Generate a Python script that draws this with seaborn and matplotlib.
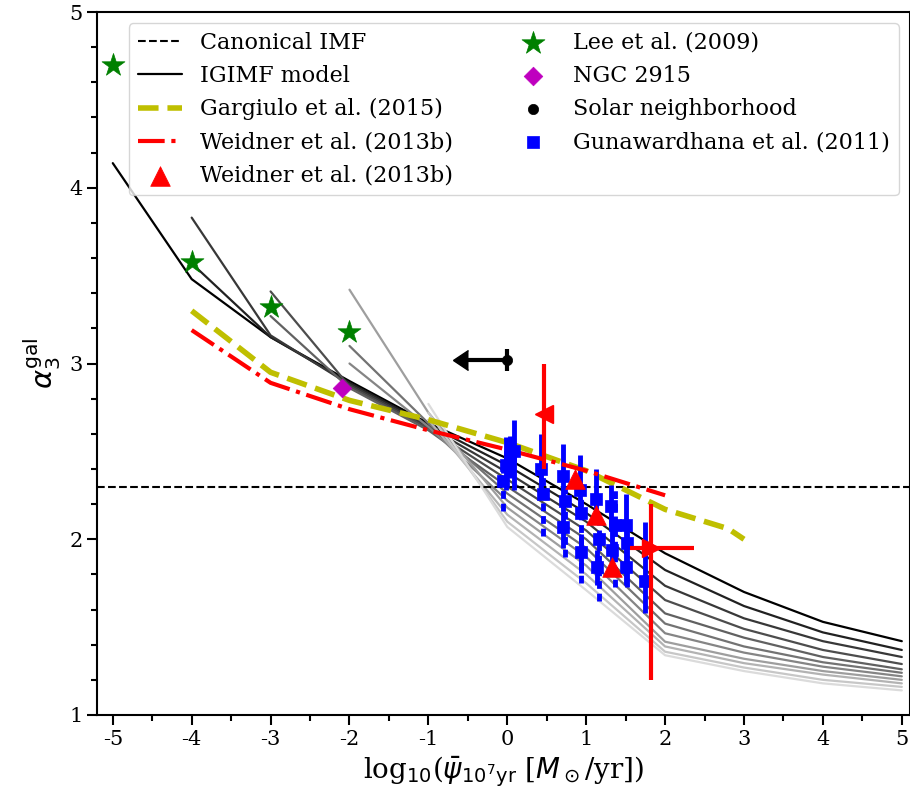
import numpy as np
import pandas as pd
import matplotlib
matplotlib.use("Agg")
import matplotlib.pyplot as plt
from matplotlib.ticker import MultipleLocator
import seaborn as sns

# ---------------- data ----------------
nan = np.nan
log_sfr = [-5, -4, -3, -2, -1, 0, 1, 2, 3, 4, 5]

# IGIMF model curves (alpha_3 of the galaxy-wide IMF), darkest first
igimf_curves = [
    [4.14, 3.48, 3.15, 2.90, 2.66, 2.46, 2.20, 1.92, 1.70, 1.53, 1.42],
    [nan, 3.57, 3.15, 2.89, 2.65, 2.42, 2.15, 1.825, 1.62, 1.47, 1.37],
    [nan, 3.83, 3.16, 2.88, 2.64, 2.38, 2.10, 1.735, 1.55, 1.42, 1.33],
    [nan, nan, 3.41, 2.87, 2.63, 2.34, 2.05, 1.654, 1.49, 1.37, 1.29],
    [nan, nan, 3.27, 2.86, 2.62, 2.30, 2.00, 1.578, 1.44, 1.33, 1.26],
    [nan, nan, nan, 3.10, 2.66, 2.26, 1.95, 1.52, 1.39, 1.30, 1.24],
    [nan, nan, nan, 3.00, 2.64, 2.22, 1.90, 1.465, 1.355, 1.275, 1.22],
    [nan, nan, nan, 3.42, 2.72, 2.18, 1.85, 1.417, 1.32, 1.25, 1.20],
    [nan, nan, nan, nan, 2.68, 2.14, 1.80, 1.39, 1.295, 1.23, 1.18],
    [nan, nan, nan, nan, 2.72, 2.10, 1.75, 1.36, 1.27, 1.20, 1.16],
    [nan, nan, nan, nan, 2.77, 2.07, 1.71, 1.34, 1.25, 1.18, 1.14],
]
igimf_gray = [0.0, 0.13, 0.22, 0.30, 0.38, 0.45, 0.52, 0.62, 0.70, 0.78, 0.86]

canonical_alpha3 = 2.3

gargiulo_x = [-4, -3, -2, -1, 0, 1, 2, 2.8, 3]
gargiulo_y = [3.30, 2.95, 2.79, 2.68, 2.55, 2.39, 2.17, 2.06, 2.00]

weidner_x = [-4, -3, -2, -1, 0, 1, 2]
weidner_y = [3.19, 2.89, 2.74, 2.62, 2.51, 2.39, 2.25]

weidner_pts_x = [0.855, 1.13, 1.33]
weidner_pts_y = [2.34, 2.14, 1.84]

# two further red points with asymmetric error bars
red_left_x, red_left_y = [0.47], [2.71]
red_left_yerr = [[0.31], [0.29]]
red_right_x, red_right_y = [1.82], [1.95]
red_right_xerr = [[0.27], [0.54]]
red_right_yerr = [[0.75], [0.25]]

lee_x = [-5, -4, -3, -2]
lee_y = [4.70, 3.58, 3.32, 3.18]

ngc_x = [-2.1]
ngc_y = [2.86]

solar_x = [0.0]
solar_y = [3.02]
solar_xerr = [0.50]
solar_yerr = [0.06]

gama_x = [-0.06, -0.02, 0.04, 0.08, 0.43, 0.45, 0.71, 0.73, 0.71,
          0.92, 0.94, 0.93, 1.13, 1.16, 1.14, 1.31, 1.36, 1.33,
          1.50, 1.52, 1.50, 1.75]
gama_y = [2.33, 2.42, 2.47, 2.50, 2.40, 2.26, 2.36, 2.22, 2.07,
          2.28, 2.15, 1.93, 2.23, 2.00, 1.84, 2.19, 2.08, 1.94,
          2.08, 1.98, 1.84, 1.76]
gama_err_lo = [0.17, 0.14, 0.12, 0.22, 0.15, 0.24, 0.18, 0.32, 0.12,
               0.15, 0.40, 0.12, 0.12, 0.35, 0.10, 0.12, 0.35, 0.10,
               0.15, 0.25, 0.10, 0.18]
gama_err_hi = [0.12, 0.16, 0.12, 0.18, 0.20, 0.12, 0.18, 0.15, 0.12,
               0.20, 0.12, 0.10, 0.17, 0.15, 0.10, 0.12, 0.22, 0.12,
               0.18, 0.12, 0.10, 0.34]
gama_dashed = [True, False, False, False, False, True, False, True, False,
               False, True, False, False, True, False, False, True, False,
               False, False, False, False]

x_ticks = [-5, -4, -3, -2, -1, 0, 1, 2, 3, 4, 5]
y_ticks = [1, 2, 3, 4, 5]

RED, GREEN, BLUE, YELLOW, MAGENTA = "#ff0000", "#008000", "#0000ff", "#bfbf00", "#bf00bf"

# ---------------- style ----------------
sns.set_theme(style="ticks", color_codes=False)
plt.rcParams["font.family"] = ["DejaVu Serif"]
plt.rcParams["mathtext.fontset"] = "dejavusans"
plt.rcParams["axes.unicode_minus"] = False
for key in ("text.color", "axes.labelcolor", "xtick.color", "ytick.color",
            "xtick.labelcolor", "ytick.labelcolor"):
    plt.rcParams[key] = "black"

fig = plt.figure(figsize=(9.10, 8.02), dpi=100)
ax = fig.add_axes([97 / 910, 1 - 715 / 802, (909.7 - 97) / 910, (715 - 12) / 802])

# IGIMF model family
for i, (curve, g) in enumerate(zip(igimf_curves, igimf_gray)):
    df = pd.DataFrame({"x": log_sfr, "y": curve}).dropna()
    sns.lineplot(data=df, x="x", y="y", ax=ax, color=str(g), lw=1.6,
                 estimator=None, sort=False,
                 label="IGIMF model" if i == 0 else None, legend=False)

ax.axhline(canonical_alpha3, color="k", ls="--", lw=1.5, label="Canonical IMF")

sns.lineplot(x=gargiulo_x, y=gargiulo_y, ax=ax, color=YELLOW, lw=4, ls="--",
             estimator=None, sort=False, label="Gargiulo et al. (2015)",
             legend=False)

# Gunawardhana et al. (2011) measurements
gx = np.array(gama_x)
gy = np.array(gama_y)
glo = np.array(gama_err_lo)
ghi = np.array(gama_err_hi)
gd = np.array(gama_dashed)
ax.errorbar(gx[~gd], gy[~gd], yerr=[glo[~gd], ghi[~gd]], fmt="none",
            ecolor=BLUE, elinewidth=3.5, capsize=0)
eb = ax.errorbar(gx[gd], gy[gd], yerr=[glo[gd], ghi[gd]], fmt="none",
                 ecolor=BLUE, elinewidth=3.5, capsize=0)
eb[2][0].set_linestyle((0, (1.6, 1.0)))
sns.scatterplot(x=gama_x, y=gama_y, ax=ax, marker="s", s=85, color=BLUE,
                edgecolor=BLUE, linewidth=0.5, zorder=3,
                label="Gunawardhana et al. (2011)", legend=False)

sns.lineplot(x=weidner_x, y=weidner_y, ax=ax, color=RED, lw=3, ls="-.",
             estimator=None, sort=False, label="Weidner et al. (2013b)",
             legend=False)

sns.scatterplot(x=weidner_pts_x, y=weidner_pts_y, ax=ax, marker="^", s=200,
                color=RED, edgecolor=RED, linewidth=0.5, zorder=4,
                label="Weidner et al. (2013b) ", legend=False)

ax.errorbar(red_left_x, red_left_y, yerr=red_left_yerr, fmt="<", color=RED,
            ms=13, elinewidth=3, capsize=0, zorder=4)
ax.errorbar(red_right_x, red_right_y, xerr=red_right_xerr, yerr=red_right_yerr,
            fmt=">", color=RED, ms=13, elinewidth=3, capsize=0, zorder=4)

sns.scatterplot(x=lee_x, y=lee_y, ax=ax, marker="*", s=300, color=GREEN,
                edgecolor=GREEN, linewidth=0.5, zorder=4,
                label="Lee et al. (2009)", legend=False)
sns.scatterplot(x=ngc_x, y=ngc_y, ax=ax, marker="D", s=90, color=MAGENTA,
                edgecolor=MAGENTA, linewidth=0.5, zorder=4,
                label="NGC 2915", legend=False)

sol = ax.errorbar(solar_x, solar_y, xerr=solar_xerr, yerr=solar_yerr,
                  xuplims=True, fmt="none", ecolor="k", elinewidth=3,
                  capsize=0)
for cl in sol[1]:
    cl.set_markersize(14)
    cl.set_color("k")
sns.scatterplot(x=solar_x, y=solar_y, ax=ax, marker="o", s=55, color="k",
                edgecolor="k", linewidth=0.5, zorder=5,
                label="Solar neighborhood", legend=False)

# ---------------- axes ----------------
ax.set_xlim(-5.2, 5.1)
ax.set_ylim(1, 5)
ax.set_xticks(x_ticks)
ax.set_xticklabels([str(t) for t in x_ticks])
ax.set_yticks(y_ticks)
ax.set_yticklabels([str(t) for t in y_ticks])
ax.xaxis.set_minor_locator(MultipleLocator(0.5))
ax.yaxis.set_minor_locator(MultipleLocator(0.2))
ax.tick_params(which="major", direction="out", length=7, width=1.5,
               labelsize=15, color="k", labelcolor="k")
ax.tick_params(which="minor", direction="out", length=4, width=1.5, color="k")
for sp in ax.spines.values():
    sp.set_visible(True)
    sp.set_linewidth(1.5)
    sp.set_color("k")

ax.set_xlabel(r"log$_{10}$($\bar{\psi}_{10^7{\rm yr}}$ [$M_\odot$/yr])",
              fontsize=20, color="k")
ax.set_ylabel(r"$\alpha_3^{\rm gal}$", fontsize=21, color="k")

handles, labels = ax.get_legend_handles_labels()
lookup = dict(zip(labels, handles))
order = ["Canonical IMF", "IGIMF model", "Gargiulo et al. (2015)",
         "Weidner et al. (2013b)", "Weidner et al. (2013b) ",
         "Lee et al. (2009)", "NGC 2915", "Solar neighborhood",
         "Gunawardhana et al. (2011)"]
leg = ax.legend([lookup[k] for k in order], [k.strip() for k in order],
                loc="upper right", ncol=2, fontsize=16, frameon=True,
                fancybox=True, framealpha=0.8, edgecolor="0.8",
                borderaxespad=0.5, columnspacing=2.6)
for t in leg.get_texts():
    t.set_color("k")

fig.savefig("out.png", dpi=100)
